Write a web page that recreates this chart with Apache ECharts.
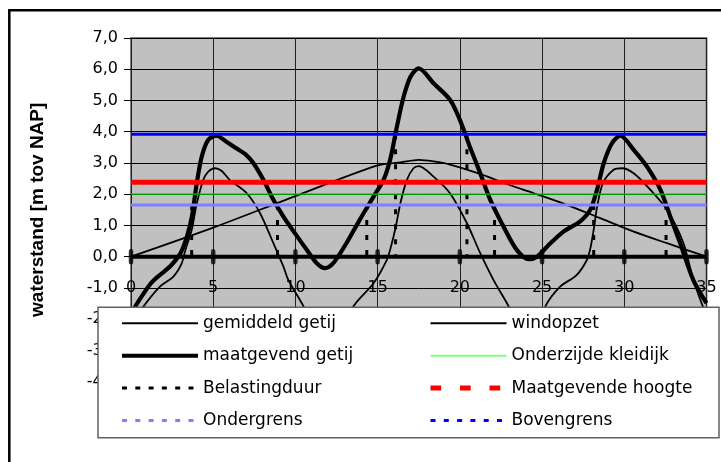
<!DOCTYPE html>
<html><head><meta charset="utf-8">
<script src="https://cdn.jsdelivr.net/npm/echarts@6/dist/echarts.min.js"></script>
<style>html,body{margin:0;padding:0;background:#fff}#c{width:721px;height:462px}</style>
</head><body><div id="c"></div>
<script>
// ---- data ----
const gemiddeldGetij = [[0,-2.2],[0.75,-1.6],[1.76,-0.96],[2.58,-0.64],[3.09,-0.21],[3.3,0.2],[3.69,0.85],[4.0,1.7],[4.4,2.46],[4.7,2.72],[5.11,2.83],[5.5,2.75],[6.0,2.46],[7.04,2.03],[7.85,1.39],[8.66,0.43],[9.27,-0.32],[9.57,-0.75],[10.49,-1.59],[11.3,-2.5],[12.1,-2.8],[12.8,-2.5],[13.53,-1.59],[14.75,-0.85],[15.56,-0.1],[15.8,0.3],[16.1,0.95],[16.4,1.75],[16.78,2.46],[17.18,2.83],[17.5,2.9],[18.4,2.56],[19.4,2.03],[20.43,1.07],[21.24,0.11],[22.05,-0.75],[22.97,-1.59],[23.6,-2.3],[24.2,-2.6],[24.8,-2.3],[25.2,-1.59],[26.1,-0.96],[27.1,-0.59],[27.73,-0.1],[27.95,0.3],[28.15,0.9],[28.35,1.6],[28.7,2.35],[29.35,2.78],[29.86,2.83],[30.57,2.67],[31.59,2.14],[32.6,1.5],[33.6,0.43],[34.2,-0.75],[35,-1.9]];
const windopzet = [[0,0],[5,0.93],[10,1.94],[15,2.92],[16.4,3.02],[17.5,3.1],[18.4,3.05],[19.4,2.95],[21.4,2.62],[22.5,2.39],[24.5,2.03],[26.5,1.66],[28.5,1.24],[30.5,0.82],[32.6,0.43],[35,0]];
const maatgevendGetij = [[0,-2.0],[0.14,-1.71],[1.0,-1.0],[1.4,-0.75],[2.4,-0.3],[3.0,0.1],[3.4,0.64],[3.7,1.28],[4.0,2.35],[4.3,3.2],[4.7,3.74],[5.2,3.87],[5.8,3.68],[6.4,3.47],[7.0,3.26],[7.45,2.99],[8.05,2.46],[8.66,1.82],[9.27,1.28],[9.9,0.8],[10.7,0.21],[11.3,-0.21],[11.8,-0.37],[12.3,-0.21],[13.1,0.43],[13.9,1.17],[14.75,1.92],[15.36,2.46],[15.76,3.1],[16.17,4.16],[16.58,5.12],[17.0,5.76],[17.5,6.03],[18.4,5.55],[19.4,5.02],[20.0,4.38],[20.6,3.53],[21.24,2.67],[21.85,1.82],[22.66,0.96],[23.47,0.21],[24.2,-0.08],[24.7,0.0],[25.3,0.32],[26.3,0.8],[27.3,1.12],[27.93,1.5],[28.34,2.14],[28.75,2.99],[29.25,3.63],[29.76,3.87],[30.57,3.42],[31.38,2.88],[32.2,2.14],[32.8,1.28],[33.4,0.43],[34.2,-0.75],[35,-1.49]];
const belastingX = [3.69, 8.91, 14.34, 16.09, 20.43, 22.11, 28.14, 32.54];
const belastingTop = [1.65, 1.65, 1.65, 3.92, 3.92, 1.65, 1.65, 1.65];
const xSpan = [0, 35];
const ondergrens = 1.65;
const onderzijdeKleidijk = 2.0;
const maatgevendeHoogte = 2.38;
const bovengrens = 3.92;
const zeroMarks = [0, 5, 10, 15, 20, 25, 30, 35];

const legendLeft = ['gemiddeld getij', 'maatgevend getij', 'Belastingduur', 'Ondergrens'];
const legendRight = ['windopzet', 'Onderzijde kleidijk', 'Maatgevende hoogte', 'Bovengrens'];

// ---- chart ----
const chart = echarts.init(document.getElementById('c'));
const hline = (name, v, color, width) => ({
  name, type: 'line', symbol: 'none', silent: true, z: 5,
  data: xSpan.map(x => [x, v]),
  itemStyle: { color }, lineStyle: { color, width, type: 'solid' }
});
const series = [];
belastingX.forEach((x, i) => {
  series.push({
    name: 'Belastingduur', type: 'line', symbol: 'none', silent: true, z: 2,
    data: [[x, belastingTop[i]], [x, 0]],
    itemStyle: { color: '#000' }, lineStyle: { color: '#000', width: 3, type: [5, 10] }
  });
});
series.push(
  { name: 'gemiddeld getij', type: 'line', symbol: 'none', smooth: 0.3, z: 3, data: gemiddeldGetij, itemStyle: { color: '#000' }, lineStyle: { color: '#000', width: 1.8 } },
  { name: 'windopzet', type: 'line', symbol: 'none', smooth: 0.3, z: 3, data: windopzet, itemStyle: { color: '#000' }, lineStyle: { color: '#000', width: 1.8 } },
  { name: 'maatgevend getij', type: 'line', symbol: 'none', smooth: 0.3, z: 3, data: maatgevendGetij, itemStyle: { color: '#000' }, lineStyle: { color: '#000', width: 4.2 } },
  { name: 'nullijn', type: 'line', symbol: 'none', silent: true, z: 4,
    data: xSpan.map(x => [x, 0]), itemStyle: { color: '#000' }, lineStyle: { color: '#000', width: 4 } },
  { name: 'nulmarkering', type: 'scatter', symbol: 'roundRect', symbolSize: [4.5, 15], z: 4, silent: true,
    data: zeroMarks.map(x => [x, 0]), itemStyle: { color: '#000' } },
  hline('Ondergrens', ondergrens, '#8080ff', 3),
  hline('Onderzijde kleidijk', onderzijdeKleidijk, '#00c800', 1.3),
  hline('Maatgevende hoogte', maatgevendeHoogte, '#ff0000', 5),
  hline('Bovengrens', bovengrens, '#0000ff', 3)
);

const hiddenSymbol = { color: 'rgba(0,0,0,0)', opacity: 0, borderWidth: 0 };
const legendStyles = {
  'gemiddeld getij': { lineStyle: { color: '#000', width: 2, type: 'solid' } },
  'maatgevend getij': { lineStyle: { color: '#000', width: 4, type: 'solid' } },
  'Belastingduur': { lineStyle: { color: '#000', width: 3, type: [5, 8.3] } },
  'Ondergrens': { lineStyle: { color: '#8080ff', width: 3, type: [5, 8.3] } },
  'windopzet': { lineStyle: { color: '#000', width: 2, type: 'solid' } },
  'Onderzijde kleidijk': { lineStyle: { color: '#80ff80', width: 2, type: 'solid' } },
  'Maatgevende hoogte': { lineStyle: { color: '#ff0000', width: 5, type: [10.7, 18.8] } },
  'Bovengrens': { lineStyle: { color: '#0000ff', width: 3, type: [5, 8.3] } }
};
const mkLegend = (names, left) => ({
  orient: 'vertical', left, top: 313.3, padding: 0, itemGap: 12.4,
  itemWidth: 76, itemHeight: 14, selectedMode: false, z: 20,
  textStyle: { fontFamily: 'DejaVu Sans', fontSize: 17, color: '#000', lineHeight: 20 },
  data: names.map(n => Object.assign({ name: n, itemStyle: hiddenSymbol }, legendStyles[n]))
});

chart.setOption({
  animation: false,
  backgroundColor: '#fff',
  grid: { left: 131, right: 14.5, top: 38, bottom: 80.4, show: true,
    backgroundColor: '#c0c0c0', borderColor: '#808080', borderWidth: 2 },
  xAxis: {
    type: 'value', min: 0, max: 35, interval: 5, position: 'bottom',
    axisLine: { show: false, onZero: false },
    axisTick: { show: false },
    splitLine: { show: true, lineStyle: { color: '#202020', width: 1 } },
    axisLabel: { margin: -101.6, color: '#000', fontFamily: 'DejaVu Sans', fontSize: 16, showMaxLabel: true, showMinLabel: true }
  },
  yAxis: {
    type: 'value', min: -4, max: 7, interval: 1,
    name: 'waterstand [m tov NAP]', nameLocation: 'middle', nameGap: 84,
    nameTextStyle: { fontFamily: 'Liberation Sans', fontWeight: 'bold', fontSize: 19, color: '#000' },
    axisLine: { show: false },
    axisTick: { show: true, length: 7, lineStyle: { color: '#000', width: 1 } },
    splitLine: { show: true, lineStyle: { color: '#000', width: 1 } },
    axisLabel: { margin: 13, color: '#000', fontFamily: 'DejaVu Sans', fontSize: 16,
      formatter: v => v.toFixed(1).replace('.', ',') }
  },
  legend: [mkLegend(legendLeft, 120), mkLegend(legendRight, 428)],
  graphic: [
    { type: 'rect', z: 15, silent: true, shape: { x: 98, y: 307.3, width: 621, height: 130.4 },
      style: { fill: '#fff', stroke: '#606060', lineWidth: 1.5 } },
    { type: 'rect', z: 15, silent: true, shape: { x: 9.3, y: 10.3, width: 800, height: 600 },
      style: { fill: 'none', stroke: '#000', lineWidth: 2.5 } }
  ],
  series
});
</script></body></html>
